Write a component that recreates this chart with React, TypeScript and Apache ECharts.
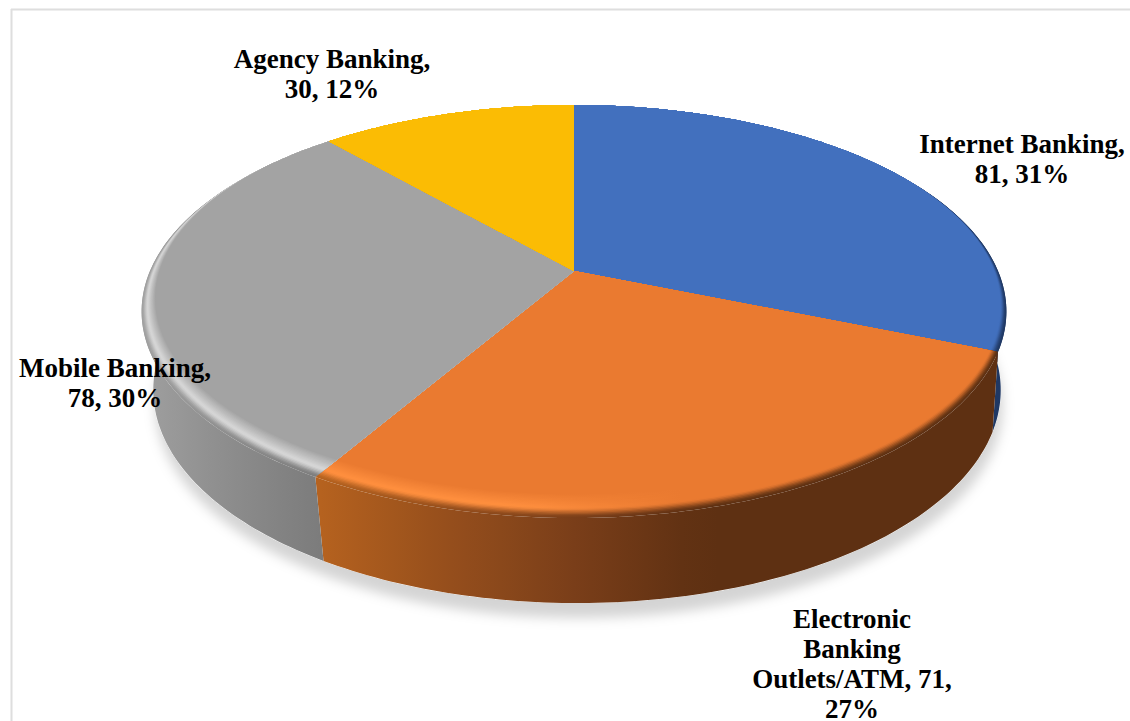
import React, { useEffect, useRef } from "react";
import * as echarts from "echarts";

// Banking channels and their counts
const categories = ["Internet Banking", "Electronic\nBanking\nOutlets/ATM", "Mobile Banking", "Agency Banking"];
const counts = [81, 71, 78, 30];
const valueBreaks = [false, true, false, false];

// Slice colours: top face, rim highlight, side wall ramp along the screen x axis
const faceColors = ["#4270be", "#ea7a30", "#a3a3a3", "#fbbc04"];
const glowColors = ["#4270be", "#ff8f3e", "#d6d6d6", "#fbbc04"];
const wallRamps: [number, string][][] = [
  [[140, "#1f3864"], [1007, "#1f3864"]],
  [[320, "#b5621f"], [450, "#954e1c"], [600, "#743b18"], [700, "#5e3012"], [1007, "#5e3012"]],
  [[140, "#a0a0a0"], [230, "#8c8c8c"], [330, "#7a7a7a"], [1007, "#7a7a7a"]],
  [[140, "#7f6000"], [1007, "#7f6000"]],
];

// Label anchors (centre of each text block)
const labelCenters = [[1022, 158.5], [852, 664], [115, 382.5], [332, 73.5]];

// Perspective disc
const CX = 574, CY = 271, A = 424, B = 198.6, Q = 0.196, LOWER_SHRINK = 0.98, LOWER_SHIFT = 3;
const X_MIN = 140, X_MAX = 1007;

const total = counts.reduce((s, v) => s + v, 0);
const starts = counts.map((_, i) => counts.slice(0, i).reduce((s, v) => s + v, 0));

const topPoint = (theta: number, r = 1): number[] => {
  const u = Math.sin(theta) * r, v = Math.cos(theta) * r;
  const d = 1 + Q * v;
  return [CX + (A * u) / d, CY - (B * v) / d];
};

const lowerPoint = (theta: number): number[] => {
  const u = Math.sin(theta), v = Math.cos(theta);
  const d = 1 + Q * v;
  return [CX + LOWER_SHIFT + (A * LOWER_SHRINK * u) / d, CY - (B * v) / d + 77 - 8 * v];
};

const parseHex = (h: string) => [1, 3, 5].map((i) => parseInt(h.slice(i, i + 2), 16));
const mix = (a: number[], b: number[], t: number) => a.map((c, i) => c + (b[i] - c) * t);
const toCss = (c: number[]) => `rgb(${c.map((n) => Math.round(n)).join(",")})`;

const rampAt = (ramp: [number, string][], x: number) => {
  if (x <= ramp[0][0]) return parseHex(ramp[0][1]);
  for (let i = 1; i < ramp.length; i++) {
    if (x <= ramp[i][0]) {
      const t = (x - ramp[i - 1][0]) / (ramp[i][0] - ramp[i - 1][0]);
      return mix(parseHex(ramp[i - 1][1]), parseHex(ramp[i][1]), t);
    }
  }
  return parseHex(ramp[ramp.length - 1][1]);
};

const clamp01 = (t: number) => Math.max(0, Math.min(1, t));

// Bevel colour at screen x and depth t across the rim (0 = outer edge, 1 = inner edge)
const bevelColor = (i: number, x: number, t: number) => {
  const face = parseHex(faceColors[i]);
  const wall = rampAt(wallRamps[i], x);
  const glowAmount = clamp01((680 - x) / 160);
  const peak = mix(face, parseHex(glowColors[i]), glowAmount);
  const split = 0.42;
  if (t < split) {
    const s = t / split;
    return mix(wall, peak, s * s * (3 - 2 * s));
  }
  return mix(peak, face, (t - split) / (1 - split));
};

const horizontalGradient = (colorAt: (x: number) => number[]) => {
  const stops = [];
  const steps = 24;
  for (let k = 0; k <= steps; k++) {
    const offset = k / steps;
    stops.push({ offset, color: toCss(colorAt(X_MIN + (X_MAX - X_MIN) * offset)) });
  }
  return new echarts.graphic.LinearGradient(X_MIN, 0, X_MAX, 0, stops, true);
};

// Rim width in disc units: widest at the front, vanishing towards the back
const rimWidth = (theta: number) => 0.078 * Math.pow(clamp01((0.6 - Math.cos(theta)) / 1.6), 1.3);

const arcAngles = (from: number, to: number) => {
  const n = Math.max(2, Math.ceil(((to - from) * 180) / Math.PI));
  return Array.from({ length: n + 1 }, (_, k) => from + ((to - from) * k) / n);
};

const renderSlice = (params: any, api: any) => {
  const i = params.dataIndex;
  const from = (api.value(0) / total) * 2 * Math.PI;
  const to = ((api.value(0) + api.value(1)) / total) * 2 * Math.PI;
  const children: any[] = [];

  if (i === 0) {
    // Soft shadow under the whole pie
    children.push({
      type: "polygon",
      silent: true,
      shape: { points: arcAngles(0, 2 * Math.PI).map((a) => lowerPoint(a)) },
      style: { fill: "#ffffff", shadowBlur: 12, shadowColor: "rgba(0,0,0,0.17)", shadowOffsetY: 15, shadowOffsetX: 2 },
    });
  }

  // Side wall: only the part facing the viewer
  const wallFrom = Math.max(from, (65 * Math.PI) / 180);
  const wallTo = Math.min(to, (290 * Math.PI) / 180);
  if (wallTo > wallFrom) {
    const angles = arcAngles(wallFrom, wallTo);
    children.push({
      type: "polygon",
      silent: true,
      shape: { points: [...angles.map((a) => topPoint(a)), ...[...angles].reverse().map((a) => lowerPoint(a))] },
      style: { fill: horizontalGradient((x) => rampAt(wallRamps[i], x)) },
    });
  }

  // Top face painted from the outer edge inwards, so the rim shades into the flat colour
  const bands = 18;
  const angles = arcAngles(from, to);
  for (let b = 0; b <= bands; b++) {
    const t = b / bands;
    children.push({
      type: "polygon",
      silent: true,
      shape: { points: [[CX, CY], ...angles.map((a) => topPoint(a, 1 - rimWidth(a) * t))] },
      style: { fill: horizontalGradient((x) => bevelColor(i, x, t)) },
    });
  }
  return { type: "group", children };
};

const labelText = (i: number) => {
  const pct = Math.round((counts[i] / total) * 100);
  return valueBreaks[i]
    ? `${categories[i]}, ${counts[i]},\n${pct}%`
    : `${categories[i]},\n${counts[i]}, ${pct}%`;
};

const renderLabel = (params: any) => {
  const i = params.dataIndex;
  return {
    type: "text",
    silent: true,
    style: {
      text: labelText(i),
      x: labelCenters[i][0],
      y: labelCenters[i][1],
      align: "center",
      verticalAlign: "middle",
      font: "bold 27px 'Liberation Serif', 'Times New Roman', serif",
      lineHeight: 30,
      fill: "#000000",
    },
  };
};

export default function App() {
  const ref = useRef<HTMLDivElement>(null);
  useEffect(() => {
    const chart = echarts.init(ref.current!, undefined, { renderer: "svg" });
    const sliceData = counts.map((v, i) => ({ name: categories[i], value: [starts[i], v] }));
    chart.setOption({
      animation: false,
      backgroundColor: "#ffffff",
      graphic: [
        { type: "line", silent: true, shape: { x1: 11, y1: 9.5, x2: 1130, y2: 9.5 }, style: { stroke: "#dedede", lineWidth: 2 } },
        { type: "line", silent: true, shape: { x1: 11.5, y1: 9, x2: 11.5, y2: 721 }, style: { stroke: "#dedede", lineWidth: 2 } },
      ],
      series: [
        { type: "custom", coordinateSystem: "none", renderItem: renderSlice, data: sliceData, z: 2 },
        { type: "custom", coordinateSystem: "none", renderItem: renderLabel, data: sliceData, z: 3 },
      ],
    });
    return () => chart.dispose();
  }, []);
  return <div ref={ref} style={{ position: "absolute", left: 0, top: 0, width: 1130, height: 721 }} />;
}
